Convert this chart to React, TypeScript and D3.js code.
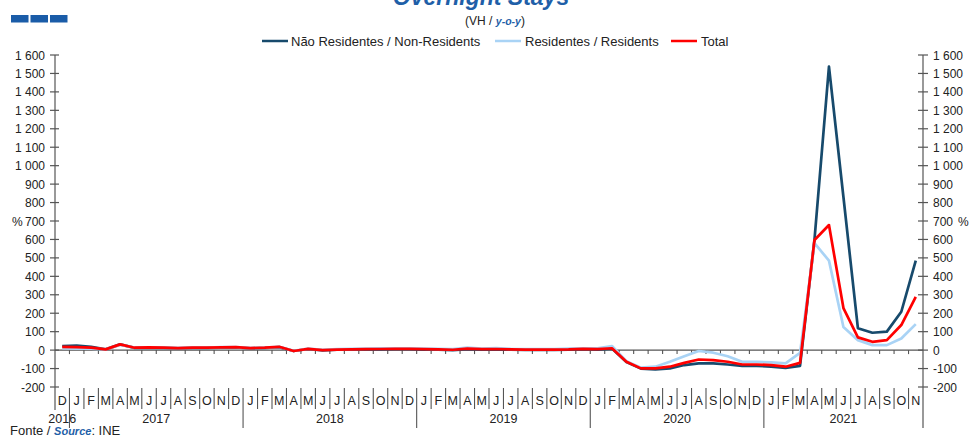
import React from "react";
import * as d3 from "d3";

const monthLetters = [
  "D",
  "J", "F", "M", "A", "M", "J", "J", "A", "S", "O", "N", "D",
  "J", "F", "M", "A", "M", "J", "J", "A", "S", "O", "N", "D",
  "J", "F", "M", "A", "M", "J", "J", "A", "S", "O", "N", "D",
  "J", "F", "M", "A", "M", "J", "J", "A", "S", "O", "N", "D",
  "J", "F", "M", "A", "M", "J", "J", "A", "S", "O", "N",
];
const years = ["2016", "2017", "2018", "2019", "2020", "2021"];
const monthsPerYear = [1, 12, 12, 12, 12, 11];

const nonResidents = [
  22,
  25, 18, 4, 31, 12, 14, 12, 10, 12, 12, 14, 15,
  10, 12, 16, -5, 6, -1, 2, 3, 4, 4, 5, 5,
  3, 2, 0, 5, 3, 4, 2, 1, 1, 1, 2, 5,
  3, 8, -65, -100, -105, -99, -81, -72, -72, -78, -85, -85,
  -90, -96, -85, 600, 1537, 830, 119, 94, 100, 208, 485,
];
const residents = [
  10,
  8, 8, 4, 28, 14, 15, 14, 12, 14, 14, 16, 16,
  12, 14, 18, -4, 8, 2, 5, 7, 8, 9, 10, 10,
  8, 7, 5, 14, 8, 11, 7, 6, 6, 6, 8, 10,
  9, 22, -60, -95, -90, -63, -33, -5, -14, -33, -63, -63,
  -67, -72, -15, 580, 485, 125, 54, 27, 27, 63, 141,
];
const total = [
  18,
  16, 13, 4, 31, 13, 15, 13, 11, 13, 13, 15, 16,
  11, 13, 18, -5, 7, 0, 3, 4, 5, 6, 7, 7,
  5, 4, 2, 8, 5, 6, 4, 3, 3, 3, 4, 7,
  5, 10, -63, -99, -99, -90, -69, -51, -54, -63, -78, -78,
  -81, -90, -69, 597, 678, 228, 69, 45, 54, 136, 289,
];
const yTicks = [-200, -100, 0, 100, 200, 300, 400, 500, 600, 700, 800, 900, 1000, 1100, 1200, 1300, 1400, 1500, 1600];

const seriesNames = ["Não Residentes / Non-Residents", "Residentes / Residents", "Total"];
const seriesColors = ["#174a6c", "#a9d3f5", "#ff0000"];

const W = 970;
const H = 437;
const FONT = "Liberation Sans, Arial, sans-serif";

const fmt = (v: number) => {
  const s = Math.abs(v).toString();
  const withSpace = s.length > 3 ? s.slice(0, s.length - 3) + " " + s.slice(s.length - 3) : s;
  return (v < 0 ? "-" : "") + withSpace;
};

export default function App() {
  const left = 55;
  const right = 923;
  const idx = d3.range(monthLetters.length);
  const x = d3.scaleBand<number>().domain(idx).range([left, right]).padding(0);
  const y = d3.scaleLinear().domain([-200, 1600]).range([387, 55]);
  const bw = x.bandwidth();
  const cx = (i: number) => (x(i) as number) + bw / 2;
  const line = d3
    .line<number>()
    .x((_, i) => cx(i))
    .y((v) => y(v));
  const allSeries = [nonResidents, residents, total];
  const y0 = y(0);
  const axisColor = "#555";

  const yearStarts: number[] = [];
  let acc = 0;
  monthsPerYear.forEach((n) => {
    yearStarts.push(acc);
    acc += n;
  });

  return (
    <svg
      width={W}
      height={H}
      style={{ position: "absolute", left: 0, top: 0, background: "#fff" }}
      fontFamily={FONT}
    >
      {/* logo */}
      {[0, 1, 2].map((k) => (
        <rect key={k} x={11 + k * 19.5} y={15} width={17.5} height={7.5} fill="#1a5ca8" />
      ))}
      {/* title */}
      <text x={481} y={5} textAnchor="middle" fontSize={23} fontWeight="bold" fontStyle="italic" fill="#1f5fa8">
        Overnight Stays
      </text>
      <text x={495} y={25} textAnchor="middle" fontSize={12} fill="#222">
        (VH /{" "}
        <tspan fontWeight="bold" fontStyle="italic" fill="#1f5fa8" fontSize={10.5}>
          y-o-y
        </tspan>
        )
      </text>
      {/* legend */}
      {[
        { x1: 262, tx: 291 },
        { x1: 495, tx: 525 },
        { x1: 671, tx: 701 },
      ].map((l, k) => (
        <g key={k}>
          <line x1={l.x1} x2={l.x1 + 26} y1={41} y2={41} stroke={seriesColors[k]} strokeWidth={2.5} />
          <text x={l.tx} y={45.5} fontSize={13} fill="#222">
            {seriesNames[k]}
          </text>
        </g>
      ))}

      {/* left axis */}
      <line x1={left} x2={left} y1={y(1600)} y2={410} stroke={axisColor} strokeWidth={1.2} />
      {yTicks.map((t) => (
        <g key={"l" + t}>
          <line x1={left - 5} x2={left + 4} y1={y(t)} y2={y(t)} stroke={axisColor} strokeWidth={1.2} />
          <text x={45} y={y(t) + 4.5} textAnchor="end" fontSize={12} fill="#222">
            {fmt(t)}
          </text>
        </g>
      ))}
      <text x={12} y={y(700) + 4.5} fontSize={12} fill="#222">
        %
      </text>
      {/* right axis */}
      <line x1={right} x2={right} y1={y(1600)} y2={428} stroke={axisColor} strokeWidth={1.2} />
      {yTicks.map((t) => (
        <g key={"r" + t}>
          <line x1={right - 5} x2={right + 5} y1={y(t)} y2={y(t)} stroke={axisColor} strokeWidth={1.2} />
          <text x={933} y={y(t) + 4.5} textAnchor="start" fontSize={12} fill="#222">
            {fmt(t)}
          </text>
        </g>
      ))}
      <text x={958} y={y(700) + 4.5} fontSize={12} fill="#222">
        %
      </text>

      {/* zero line with ticks */}
      <line x1={left} x2={right} y1={y0} y2={y0} stroke={axisColor} strokeWidth={1.2} />
      {idx.slice(1).map((i) => (
        <line key={"zt" + i} x1={x(i) as number} x2={x(i) as number} y1={y0} y2={y0 + 4} stroke={axisColor} strokeWidth={1.1} />
      ))}

      {/* category separators */}
      {idx.slice(1).map((i) => {
        const isYear = yearStarts.includes(i);
        return (
          <line
            key={"sep" + i}
            x1={x(i) as number}
            x2={x(i) as number}
            y1={388}
            y2={isYear ? 428 : 409}
            stroke={axisColor}
            strokeWidth={1.1}
          />
        );
      })}
      {monthLetters.map((m, i) => (
        <text key={"m" + i} x={cx(i)} y={405} textAnchor="middle" fontSize={12.5} fill="#222">
          {m}
        </text>
      ))}
      {years.map((yr, k) => {
        const s = yearStarts[k];
        const e = s + monthsPerYear[k];
        const mid = ((x(s) as number) + (e < idx.length ? (x(e) as number) : right)) / 2;
        return (
          <text key={yr} x={mid} y={423} textAnchor="middle" fontSize={12.5} fill="#222">
            {yr}
          </text>
        );
      })}

      {/* series */}
      {allSeries.map((s, k) => (
        <path key={"s" + k} d={line(s) as string} fill="none" stroke={seriesColors[k]} strokeWidth={2.7} strokeLinejoin="round" />
      ))}

      {/* source */}
      <text x={10} y={435} fontSize={13} fill="#222">
        Fonte /{" "}
        <tspan fontWeight="bold" fontStyle="italic" fill="#1f5fa8" fontSize={11}>
          Source
        </tspan>
        : INE
      </text>
    </svg>
  );
}
